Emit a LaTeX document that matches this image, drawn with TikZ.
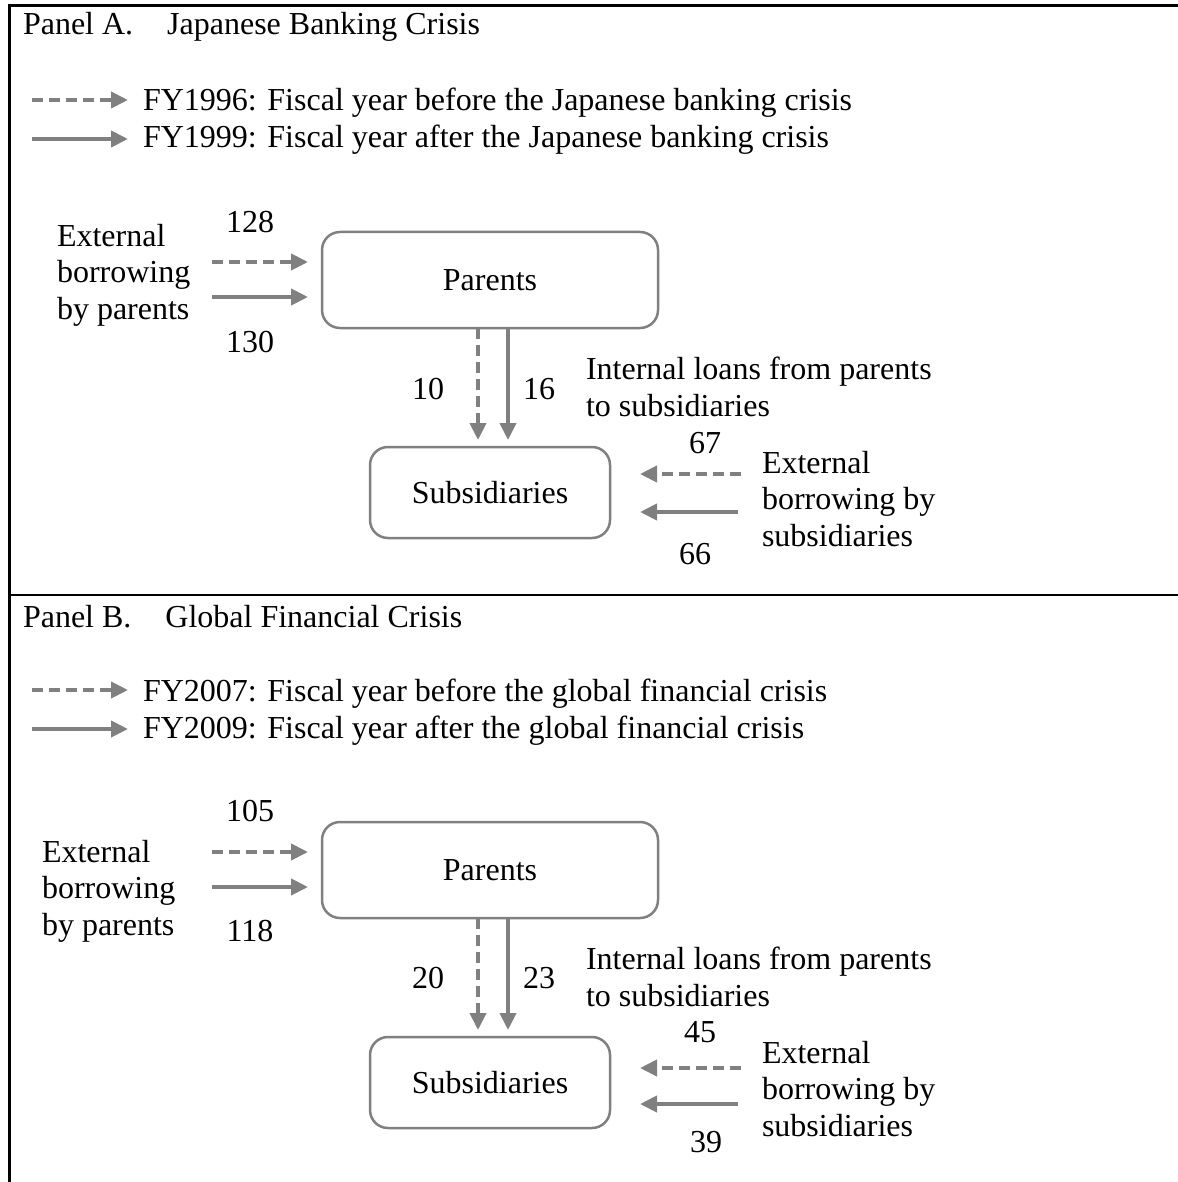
\documentclass[tikz,border=0pt]{standalone}
\usepackage{fontspec}
\setmainfont{Liberation Serif}
\usetikzlibrary{arrows.meta}
\definecolor{ag}{HTML}{808080}
\begin{document}
\begin{tikzpicture}[x=1pt,y=-1pt,
  every node/.style={font=\fontsize{32}{36.5}\selectfont, inner sep=0pt, outer sep=0pt},
  box/.style={draw=ag, line width=2.5pt, rounded corners=18pt, align=center},
  flow/.style={draw=ag, line width=4pt, -{Triangle[length=17pt,width=16pt]}},
  dflow/.style={flow, dash pattern=on 11pt off 6pt},
  txt/.style={anchor=base west},
  num/.style={anchor=base},
  ml/.style={anchor=north west, align=left},
  frame/.style={line width=2.8pt, line cap=rect}
]
\useasboundingbox (0,0) rectangle (1177,1182);
\fill[white] (0,0) rectangle (1177,1182);
% frame
\coordinate (fTL) at (9.5,5.5);
\coordinate (fTR) at (1177,5.5);
\coordinate (fBL) at (9.5,1182);
\coordinate (fML) at (9.5,595);
\coordinate (fMR) at (1177,595);
\draw[frame] (fTR) -- (fTL) -- (fBL);
\draw[frame] (fML) -- (fMR);

% ================= Panel A =================
\node[txt] (tA) at (23,35) {Panel A.\hspace{34pt}Japanese Banking Crisis};
\coordinate (lA1s) at (32,100); \coordinate (lA1e) at (128,100);
\coordinate (lA2s) at (32,139); \coordinate (lA2e) at (128,139);
\draw[dflow] (lA1s) -- (lA1e);
\draw[flow] (lA2s) -- (lA2e);
\node[txt] (lA1t) at (143,111) {FY1996: Fiscal year before the Japanese banking crisis};
\node[txt] (lA2t) at (143,148) {FY1999: Fiscal year after the Japanese banking crisis};

\node[box, minimum width=336pt, minimum height=96pt] (pA) at (490,280) {Parents};
\node[box, minimum width=240pt, minimum height=91pt] (sA) at (490,492.5) {Subsidiaries};

\coordinate (eA1) at (212,262); \coordinate (eA2) at (212,297);
\draw[dflow, shorten >=14pt] (eA1) -- (eA1 -| pA.west);
\draw[flow, shorten >=14pt] (eA2) -- (eA2 -| pA.west);
\node[num] (nA128) at (250,233) {128};
\node[num] (nA130) at (250,352) {130};
\node[ml] (ebpA) at (57,224) {External\\borrowing\\by parents};

\draw[dflow, shorten >=7pt] ([xshift=-12pt]pA.south) -- ([xshift=-12pt]sA.north);
\draw[flow, shorten >=7pt] ([xshift=18pt]pA.south) -- ([xshift=18pt]sA.north);
\node[num] (nA10) at (428,399) {10};
\node[num] (nA16) at (539,399) {16};
\node[ml] (ilA) at (586,357) {Internal loans from parents\\to subsidiaries};

\coordinate (rA1) at (741,474); \coordinate (rA2) at (738,512);
\draw[dflow, shorten >=30pt] (rA1) -- (rA1 -| sA.east);
\draw[flow, shorten >=30pt] (rA2) -- (rA2 -| sA.east);
\node[num] (nA67) at (705,453) {67};
\node[num] (nA66) at (695,564) {66};
\node[ml] (ebsA) at (762,451) {External\\borrowing by\\subsidiaries};

% ================= Panel B =================
\node[txt] (tB) at (23,627) {Panel B.\hspace{34pt}Global Financial Crisis};
\coordinate (lB1s) at (32,690); \coordinate (lB1e) at (128,690);
\coordinate (lB2s) at (32,729); \coordinate (lB2e) at (128,729);
\draw[dflow] (lB1s) -- (lB1e);
\draw[flow] (lB2s) -- (lB2e);
\node[txt] (lB1t) at (143,701) {FY2007: Fiscal year before the global financial crisis};
\node[txt] (lB2t) at (143,738) {FY2009: Fiscal year after the global financial crisis};

\node[box, minimum width=336pt, minimum height=96pt] (pB) at (490,870) {Parents};
\node[box, minimum width=240pt, minimum height=91pt] (sB) at (490,1082.5) {Subsidiaries};

\coordinate (eB1) at (212,852); \coordinate (eB2) at (212,887);
\draw[dflow, shorten >=14pt] (eB1) -- (eB1 -| pB.west);
\draw[flow, shorten >=14pt] (eB2) -- (eB2 -| pB.west);
\node[num] (nB105) at (250,821) {105};
\node[num] (nB118) at (250,941) {118};
\node[ml] (ebpB) at (42,840) {External\\borrowing\\by parents};

\draw[dflow, shorten >=7pt] ([xshift=-12pt]pB.south) -- ([xshift=-12pt]sB.north);
\draw[flow, shorten >=7pt] ([xshift=18pt]pB.south) -- ([xshift=18pt]sB.north);
\node[num] (nB20) at (428,988) {20};
\node[num] (nB23) at (539,988) {23};
\node[ml] (ilB) at (586,947) {Internal loans from parents\\to subsidiaries};

\coordinate (rB1) at (741,1068); \coordinate (rB2) at (738,1104);
\draw[dflow, shorten >=30pt] (rB1) -- (rB1 -| sB.east);
\draw[flow, shorten >=30pt] (rB2) -- (rB2 -| sB.east);
\node[num] (nB45) at (700,1042) {45};
\node[num] (nB39) at (706,1152) {39};
\node[ml] (ebsB) at (762,1041) {External\\borrowing by\\subsidiaries};
\end{tikzpicture}
\end{document}
